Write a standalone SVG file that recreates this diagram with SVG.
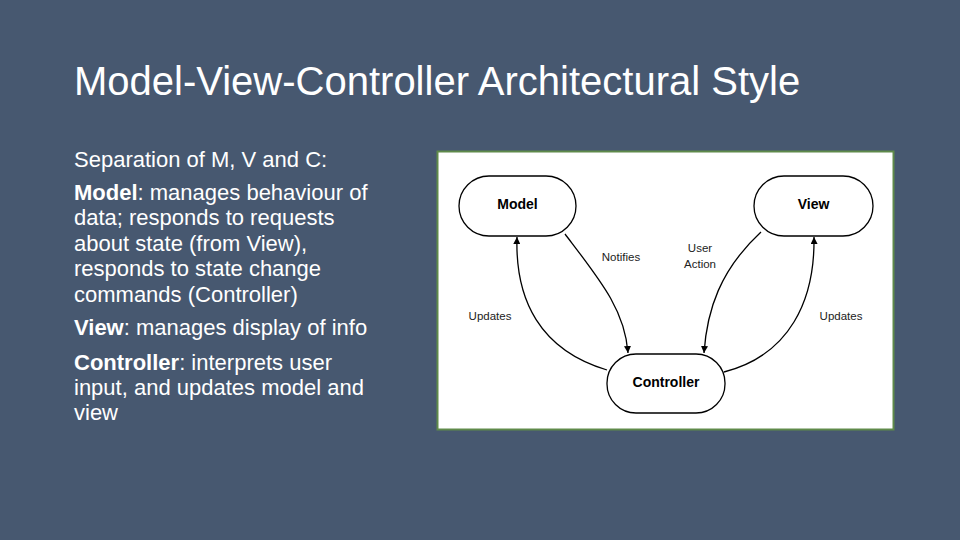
<svg xmlns="http://www.w3.org/2000/svg" width="960" height="540" viewBox="0 0 960 540">
<style>
.t{font-family:"Liberation Sans",Arial,sans-serif;fill:#fff}
.b{font-size:22px}
.n rect{fill:#fff;stroke:#000;stroke-width:1.3}
.n text{font-family:"Liberation Sans",Arial,sans-serif;font-weight:bold;font-size:14px;text-anchor:middle}
.l{font-family:"Liberation Sans",Arial,sans-serif;font-size:11.5px;fill:#222;text-anchor:middle}
.c path{fill:none;stroke:#000;stroke-width:1.3;marker-end:url(#a)}
</style>
<defs><marker id="a" viewBox="0 0 10 10" refX="10" refY="5" markerWidth="7" markerHeight="7" orient="auto" markerUnits="userSpaceOnUse"><path d="M0,0L10,5L0,10z" fill="#000"/></marker></defs>
<rect width="960" height="540" fill="#475870"/>
<text class="t" x="74" y="95" font-size="40">Model-View-Controller Architectural Style</text>
<g class="t b">
<text x="74" y="167">Separation of M, V and C:</text>
<text x="74" y="200"><tspan font-weight="bold">Model</tspan>: manages behaviour of</text>
<text x="74" y="225">data; responds to requests</text>
<text x="74" y="251">about state (from View),</text>
<text x="74" y="276">responds to state change</text>
<text x="74" y="302">commands (Controller)</text>
<text x="74" y="335"><tspan font-weight="bold">View</tspan>: manages display of info</text>
<text x="74" y="370"><tspan font-weight="bold">Controller</tspan>: interprets user</text>
<text x="74" y="395">input, and updates model and</text>
<text x="74" y="420">view</text>
</g>
<rect x="437.5" y="151.5" width="456" height="278" fill="#fff" stroke="#5f8a4a" stroke-width="2"/>
<g class="c">
<path d="M607,370 C540,350 515,300 517,237"/>
<path d="M565,234 C600,280 625,310 628,353"/>
<path d="M761,232 C720,270 707,310 704,353"/>
<path d="M724,372 C790,355 815,300 814,237"/>
</g>
<text class="l" x="621" y="261">Notifies</text>
<text class="l" x="700" y="252">User</text>
<text class="l" x="700" y="268">Action</text>
<text class="l" x="490" y="320">Updates</text>
<text class="l" x="841" y="320">Updates</text>
<g id="model" class="n"><rect x="459" y="176" width="117" height="60" rx="30"/><text x="517.5" y="209">Model</text></g>
<g id="view" class="n"><rect x="754" y="176" width="119" height="60" rx="30"/><text x="813.5" y="209">View</text></g>
<g id="controller" class="n"><rect x="607" y="354" width="118" height="59" rx="29"/><text x="666" y="387">Controller</text></g>
</svg>
